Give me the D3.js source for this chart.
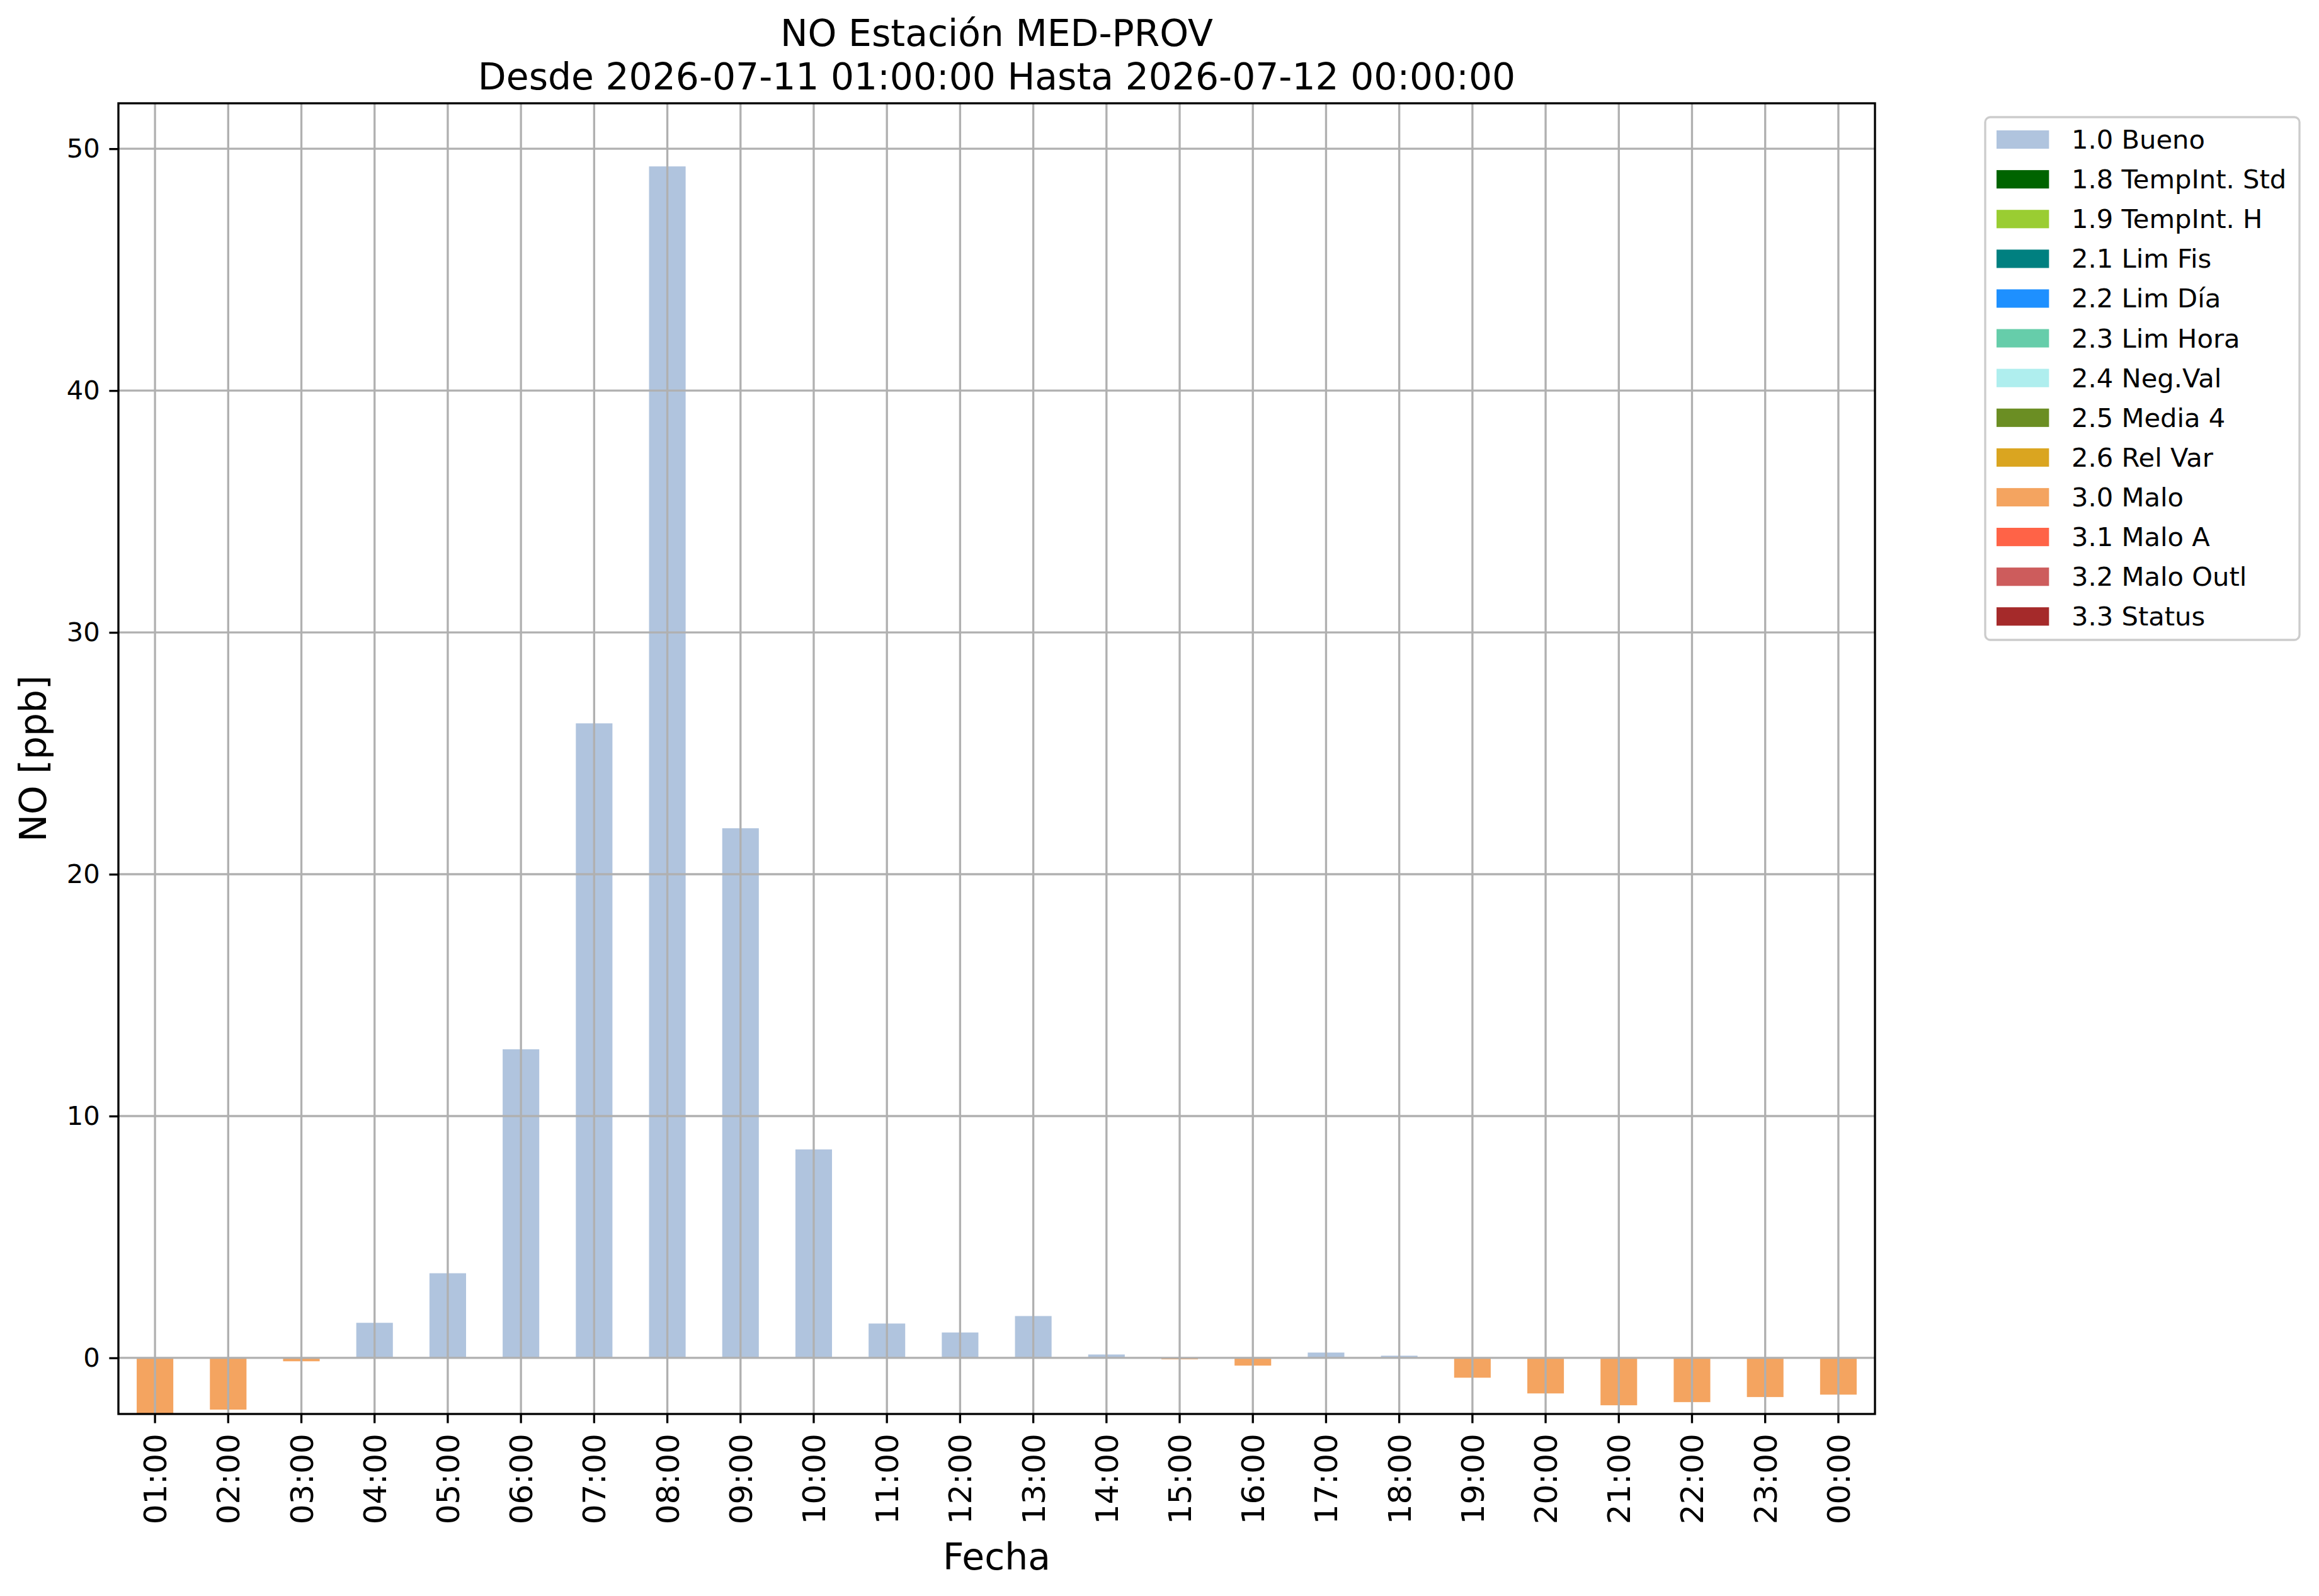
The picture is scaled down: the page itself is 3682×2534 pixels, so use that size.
<!DOCTYPE html>
<html>
<head>
<meta charset="utf-8">
<script src="https://cdn.jsdelivr.net/npm/d3@7"></script>
<style>
  html, body { margin: 0; padding: 0; background: #fff; }
  svg { display: block; font-family: "DejaVu Sans", sans-serif; }
</style>
</head>
<body>
<div id="chart"></div>
<script>
'use strict';

// hourly NO values
const hours = ['01:00', '02:00', '03:00', '04:00', '05:00', '06:00', '07:00', '08:00',
               '09:00', '10:00', '11:00', '12:00', '13:00', '14:00', '15:00', '16:00',
               '17:00', '18:00', '19:00', '20:00', '21:00', '22:00', '23:00', '00:00'];
const values = [-2.30, -2.14, -0.14, 1.45, 3.50, 12.76, 26.24, 49.27,
                21.90, 8.62, 1.42, 1.05, 1.73, 0.14, -0.06, -0.32,
                0.22, 0.09, -0.82, -1.47, -1.96, -1.83, -1.62, -1.52];
const flags = ['3.0', '3.0', '3.0', '1.0', '1.0', '1.0', '1.0', '1.0',
               '1.0', '1.0', '1.0', '1.0', '1.0', '1.0', '3.0', '3.0',
               '1.0', '1.0', '3.0', '3.0', '3.0', '3.0', '3.0', '3.0'];

// legend categories
const flagCodes = ['1.0', '1.8', '1.9', '2.1', '2.2', '2.3', '2.4', '2.5', '2.6', '3.0', '3.1', '3.2', '3.3'];
const flagNames = ['1.0 Bueno', '1.8 TempInt. Std', '1.9 TempInt. H', '2.1 Lim Fis', '2.2 Lim Día',
                   '2.3 Lim Hora', '2.4 Neg.Val', '2.5 Media 4', '2.6 Rel Var', '3.0 Malo',
                   '3.1 Malo A', '3.2 Malo Outl', '3.3 Status'];
const flagColors = ['lightsteelblue', 'darkgreen', 'yellowgreen', 'teal', 'dodgerblue',
                    'mediumaquamarine', 'paleturquoise', 'olivedrab', 'goldenrod', 'sandybrown',
                    'tomato', 'indianred', 'brown'];

const yTicks = [0, 10, 20, 30, 40, 50];
const yDomain = [-2.32, 51.88];

const title1 = 'NO Estación MED-PROV';
const title2 = 'Desde 2026-07-11 01:00:00 Hasta 2026-07-12 00:00:00';

// figure geometry (300 dpi, 1pt = 4.1667px)
const pt = 300 / 72;
const W = 3682, H = 2534;
const axLeft = 188, axRight = 2977, axTop = 164, axBottom = 2245;
const lw = 0.8 * pt;

const color = d3.scaleOrdinal().domain(flagCodes).range(flagColors);

const svg = d3.select('#chart').append('svg')
    .attr('width', W).attr('height', H)
    .attr('viewBox', `0 0 ${W} ${H}`);

svg.append('rect').attr('width', W).attr('height', H).attr('fill', '#fff');

const x = d3.scaleBand()
    .domain(hours)
    .range([axLeft, axRight])
    .paddingInner(0.5)
    .paddingOuter(0.25);

const y = d3.scaleLinear().domain(yDomain).range([axBottom, axTop]);

const data = hours.map((h, i) => ({ hour: h, value: values[i], flag: flags[i] }));

// bars
svg.append('g').attr('class', 'bars')
  .selectAll('rect')
  .data(data)
  .enter().append('rect')
    .attr('x', d => x(d.hour))
    .attr('width', x.bandwidth())
    .attr('y', d => Math.min(y(0), y(d.value)))
    .attr('height', d => Math.abs(y(d.value) - y(0)))
    .attr('fill', d => color(d.flag));

// grid on top of bars
const grid = svg.append('g').attr('class', 'grid')
    .attr('stroke', '#b0b0b0').attr('stroke-width', lw);

grid.selectAll('line.v')
  .data(hours)
  .enter().append('line')
    .attr('class', 'v')
    .attr('x1', d => x(d) + x.bandwidth() / 2)
    .attr('x2', d => x(d) + x.bandwidth() / 2)
    .attr('y1', axTop).attr('y2', axBottom);

grid.selectAll('line.h')
  .data(yTicks)
  .enter().append('line')
    .attr('class', 'h')
    .attr('x1', axLeft).attr('x2', axRight)
    .attr('y1', d => y(d)).attr('y2', d => y(d));

// axes
const tickLen = 3.5 * pt;

const yAxis = svg.append('g')
    .attr('transform', `translate(${axLeft},0)`)
    .call(d3.axisLeft(y).tickValues(yTicks).tickSize(tickLen).tickPadding(tickLen));

yAxis.select('.domain').remove();
yAxis.selectAll('.tick line').attr('stroke', '#000').attr('stroke-width', lw);
yAxis.selectAll('.tick text')
    .attr('fill', '#000')
    .style('font-family', '"DejaVu Sans", sans-serif')
    .style('font-size', (10 * pt) + 'px');

const xAxis = svg.append('g')
    .attr('transform', `translate(0,${axBottom})`)
    .call(d3.axisBottom(x).tickSize(tickLen).tickPadding(tickLen));

xAxis.select('.domain').remove();
xAxis.selectAll('.tick line').attr('stroke', '#000').attr('stroke-width', lw);
xAxis.selectAll('.tick text')
    .attr('fill', '#000')
    .attr('transform', 'rotate(-90)')
    .attr('x', -(tickLen * 2 + 2))
    .attr('y', 0)
    .attr('dy', '0.36em')
    .attr('text-anchor', 'end')
    .style('font-family', '"DejaVu Sans", sans-serif')
    .style('font-size', (12 * pt) + 'px');

// spines
svg.append('rect')
    .attr('x', axLeft).attr('y', axTop)
    .attr('width', axRight - axLeft).attr('height', axBottom - axTop)
    .attr('fill', 'none')
    .attr('stroke', '#000')
    .attr('stroke-width', lw);

// title and axis labels
const cx = (axLeft + axRight) / 2;
const bigFont = (14 * pt) + 'px';

svg.append('text')
    .attr('x', cx).attr('y', 73)
    .attr('text-anchor', 'middle')
    .style('font-size', bigFont)
    .text(title1);

svg.append('text')
    .attr('x', cx).attr('y', 142)
    .attr('text-anchor', 'middle')
    .style('font-size', bigFont)
    .text(title2);

svg.append('text')
    .attr('x', cx).attr('y', 2492)
    .attr('text-anchor', 'middle')
    .style('font-size', bigFont)
    .text('Fecha');

svg.append('text')
    .attr('transform', `translate(73,${(axTop + axBottom) / 2}) rotate(-90)`)
    .attr('text-anchor', 'middle')
    .style('font-size', bigFont)
    .text('NO [ppb]');

// legend
const legX = 3152, legY = 186, legW = 499, legH = 830;
const rowH = 63.1;
const legend = svg.append('g').attr('class', 'legend');

legend.append('rect')
    .attr('x', legX).attr('y', legY)
    .attr('width', legW).attr('height', legH)
    .attr('rx', 8).attr('ry', 8)
    .attr('fill', '#fff').attr('fill-opacity', 0.8)
    .attr('stroke', '#cccccc').attr('stroke-width', lw);

const items = legend.selectAll('g.item')
  .data(flagCodes)
  .enter().append('g')
    .attr('class', 'item')
    .attr('transform', (d, i) => `translate(0,${207 + i * rowH})`);

items.append('rect')
    .attr('x', 3170).attr('y', 0)
    .attr('width', 2 * 10 * pt).attr('height', 0.7 * 10 * pt)
    .attr('fill', d => color(d));

items.append('text')
    .attr('x', 3289).attr('y', 29)
    .style('font-size', (10 * pt) + 'px')
    .text((d, i) => flagNames[i]);
</script>
</body>
</html>
